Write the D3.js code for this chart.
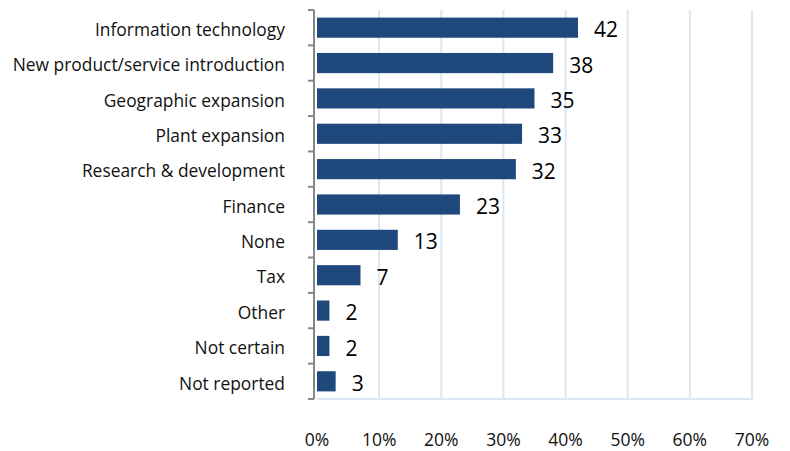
<!DOCTYPE html>
<html>
<head>
<meta charset="utf-8">
<script src="https://cdn.jsdelivr.net/npm/d3@7"></script>
<style>
  body { margin: 0; background: #fff; }
  svg text { font-family: "Open Sans", Lato, sans-serif; }
</style>
</head>
<body>
<svg id="chart" width="790" height="451"></svg>
<script>
// Share of respondents by area of investment (percent)
const categories = [
  "Information technology",
  "New product/service introduction",
  "Geographic expansion",
  "Plant expansion",
  "Research & development",
  "Finance",
  "None",
  "Tax",
  "Other",
  "Not certain",
  "Not reported"
];
const values = [42, 38, 35, 33, 32, 23, 13, 7, 2, 2, 3];
const tickValues = [0, 10, 20, 30, 40, 50, 60, 70];

const svg = d3.select("#chart");
const margin = { left: 317, right: 38, top: 10, bottom: 52 };
const width = 790 - margin.left - margin.right;
const height = 451 - margin.top - margin.bottom;

const g = svg.append("g").attr("transform", `translate(${margin.left},${margin.top})`);

const x = d3.scaleLinear().domain([0, 70]).range([0, width]);
const y = d3.scaleBand().domain(categories).range([0, height]).paddingInner(0.43).paddingOuter(0.215);

// vertical gridlines
g.append("g")
  .selectAll("line")
  .data(tickValues.slice(1))
  .join("line")
  .attr("x1", d => x(d)).attr("x2", d => x(d))
  .attr("y1", 0).attr("y2", height)
  .attr("stroke", "#dce6f2").attr("stroke-width", 2);

// bottom baseline
g.append("line")
  .attr("x1", 0).attr("x2", width)
  .attr("y1", height).attr("y2", height)
  .attr("stroke", "#dce6f2").attr("stroke-width", 2);

// bars
g.append("g")
  .selectAll("rect")
  .data(values)
  .join("rect")
  .attr("x", 0)
  .attr("y", (d, i) => y(categories[i]))
  .attr("width", d => x(d))
  .attr("height", y.bandwidth())
  .attr("fill", "#1f497d");

// value labels
g.append("g")
  .selectAll("text")
  .data(values)
  .join("text")
  .attr("x", d => x(d) + 16)
  .attr("y", (d, i) => y(categories[i]) + y.bandwidth() / 2 + 2)
  .attr("dy", "0.36em")
  .attr("font-size", 21)
  .attr("fill", "#000")
  .text(d => d);

// category axis with boundary ticks
const boundaries = d3.range(categories.length + 1).map(i => i * (height / categories.length));
g.append("line")
  .attr("x1", -3).attr("x2", -3)
  .attr("y1", 0).attr("y2", height)
  .attr("stroke", "#868686").attr("stroke-width", 2);
g.append("g")
  .selectAll("line")
  .data(boundaries)
  .join("line")
  .attr("x1", -9).attr("x2", -3)
  .attr("y1", d => d).attr("y2", d => d)
  .attr("stroke", "#868686").attr("stroke-width", 2);

g.append("g")
  .selectAll("text")
  .data(categories)
  .join("text")
  .attr("x", -32)
  .attr("y", d => y(d) + y.bandwidth() / 2 + 2)
  .attr("dy", "0.36em")
  .attr("text-anchor", "end")
  .attr("font-size", 17.4)
  .attr("fill", "#111")
  .text(d => d);

// percentage axis labels
g.append("g")
  .selectAll("text")
  .data(tickValues)
  .join("text")
  .attr("x", d => x(d))
  .attr("y", height + 41)
  .attr("dy", "0.36em")
  .attr("text-anchor", "middle")
  .attr("font-size", 17.5)
  .attr("fill", "#111")
  .text(d => d + "%");
</script>
</body>
</html>
